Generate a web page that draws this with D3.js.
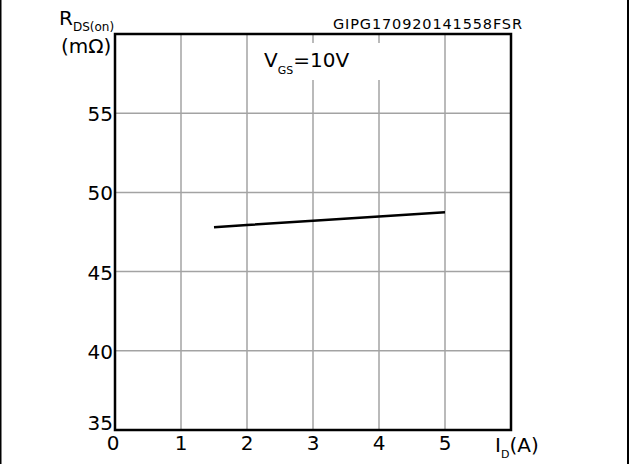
<!DOCTYPE html>
<html>
<head>
<meta charset="utf-8">
<script src="https://cdn.jsdelivr.net/npm/d3@7"></script>
<style>
  body { margin: 0; background: #fff; }
  svg text { font-family: "DejaVu Sans", Verdana, sans-serif; fill: #000; }
</style>
</head>
<body>
<svg id="chart" width="629" height="464"></svg>
<script>
// drain current I_D (A) vs on-resistance R_DS(on) (mOhm), V_GS = 10V
var xTicks = [0, 1, 2, 3, 4, 5];
var yTicks = [35, 40, 45, 50, 55];
var idA = [1.5, 2, 3, 4, 5];
var rdsOn = [47.8, 47.94, 48.21, 48.48, 48.75];
var chartCode = "GIPG170920141558FSR";

var svg = d3.select("#chart");
var W = 629, H = 464;

var x = d3.scaleLinear().domain([0, 6]).range([115, 511]);
var y = d3.scaleLinear().domain([35, 60]).range([430, 34]);

// outer side borders
svg.append("line").attr("x1", 0.5).attr("x2", 0.5).attr("y1", 0).attr("y2", H)
  .attr("stroke", "#000").attr("stroke-width", 2);
svg.append("line").attr("x1", 628).attr("x2", 628).attr("y1", 0).attr("y2", H)
  .attr("stroke", "#000").attr("stroke-width", 2);

// grid
var grid = svg.append("g").attr("stroke", "#a3a3a3").attr("stroke-width", 1.5);
grid.selectAll("line.v")
  .data(xTicks.filter(d => d > 0))
  .enter().append("line")
  .attr("class", "v")
  .attr("x1", d => x(d)).attr("x2", d => x(d))
  .attr("y1", y(60)).attr("y2", y(35));
grid.selectAll("line.h")
  .data(yTicks.filter(d => d > 35))
  .enter().append("line")
  .attr("class", "h")
  .attr("x1", x(0)).attr("x2", x(6))
  .attr("y1", d => y(d)).attr("y2", d => y(d));

// V_GS label with white box that hides grid behind it
svg.append("rect").attr("x", 256).attr("y", 43).attr("width", 128).attr("height", 37).attr("fill", "#fff");
var vgs = svg.append("text").attr("x", 264).attr("y", 67).style("font-size", "20px");
vgs.append("tspan").text("V");
vgs.append("tspan").attr("dy", 7).style("font-size", "11px").text("GS");
vgs.append("tspan").attr("dy", -7).text("=10V");

// frame
svg.append("rect")
  .attr("x", x(0)).attr("y", y(60))
  .attr("width", x(6) - x(0)).attr("height", y(35) - y(60))
  .attr("fill", "none").attr("stroke", "#000").attr("stroke-width", 2.5);

// curve
var line = d3.line().x(d => x(d[0])).y(d => y(d[1]));
svg.append("path")
  .datum(d3.zip(idA, rdsOn))
  .attr("d", line)
  .attr("fill", "none").attr("stroke", "#000").attr("stroke-width", 2.5);

// y tick labels
svg.selectAll("text.yt")
  .data(yTicks)
  .enter().append("text")
  .attr("class", "yt")
  .attr("x", 113)
  .attr("y", d => d === 35 ? y(d) : y(d) + 8)
  .attr("text-anchor", "end")
  .style("font-size", "20px")
  .text(d => d);

// x tick labels
svg.selectAll("text.xt")
  .data(xTicks)
  .enter().append("text")
  .attr("class", "xt")
  .attr("x", d => d === 0 ? x(d) - 2 : x(d))
  .attr("y", 450)
  .attr("text-anchor", "middle")
  .style("font-size", "20px")
  .text(d => d);

// axis titles
var xt = svg.append("text").attr("x", 495).attr("y", 452).style("font-size", "20px");
xt.append("tspan").text("I");
xt.append("tspan").attr("dy", 6).style("font-size", "11px").text("D");
xt.append("tspan").attr("dy", -6).text("(A)");

var yt = svg.append("text").attr("x", 59).attr("y", 25).style("font-size", "20px");
yt.append("tspan").text("R");
yt.append("tspan").attr("dy", 6).style("font-size", "12px").text("DS(on)");
svg.append("text").attr("x", 61).attr("y", 53).style("font-size", "20px").text("(m\u03A9)");

// code label
svg.append("text")
  .attr("x", 333).attr("y", 29)
  .attr("textLength", 189)
  .style("font-size", "14.5px")
  .text(chartCode);
</script>
</body>
</html>
